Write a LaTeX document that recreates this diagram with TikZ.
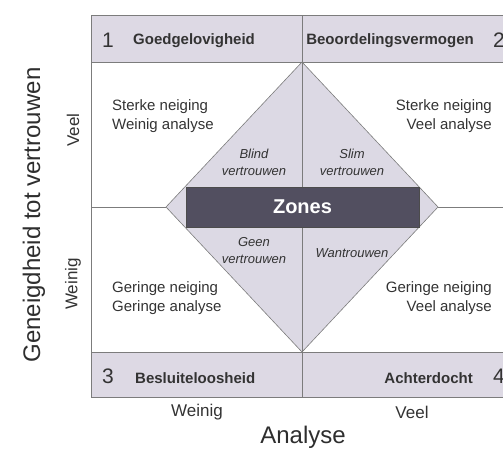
\documentclass[tikz,border=0pt]{standalone}
\usepackage{fontspec}
\setmainfont{Liberation Sans}
\definecolor{bandfill}{HTML}{DDD9E4}
\definecolor{diamfill}{HTML}{DCD9E4}
\definecolor{zonefill}{HTML}{524F60}
\definecolor{linegray}{HTML}{7C7C7C}
\definecolor{txt}{HTML}{333333}
\tikzset{
  gridline/.style={draw=linegray, line width=0.8pt},
  bandtitle/.style={font=\fontsize{15}{18}\selectfont\bfseries, text=txt, inner sep=0pt},
  bandnum/.style={font=\fontsize{21}{24}\selectfont, text=txt, inner sep=0pt},
  quadtext/.style={font=\fontsize{15}{19}\selectfont, text=txt, inner sep=0pt},
  zonetext/.style={font=\fontsize{13}{17}\selectfont\itshape, text=txt, inner sep=0pt, align=center},
  axistext/.style={font=\fontsize{17}{20}\selectfont, text=txt, inner sep=0pt},
  axistitle/.style={font=\fontsize{24}{28}\selectfont, text=txt!90!black, inner sep=0pt}
}
\begin{document}
\begin{tikzpicture}[x=1pt,y=-1pt]
\useasboundingbox (0,0) rectangle (503,450);
\clip (0,0) rectangle (503,450);
% bands
\fill[bandfill] (91,15) rectangle (513,62);
\fill[bandfill] (91,352) rectangle (513,397);
% diamond
\coordinate (dt) at (302,62);
\coordinate (dr) at (438,207);
\coordinate (db) at (302,352);
\coordinate (dl) at (166,207);
\filldraw[fill=diamfill, draw=linegray, line width=0.6pt] (dt) -- (dr) -- (db) -- (dl) -- cycle;
% grid lines
\draw[gridline] (91,15) rectangle (513,397);
\draw[gridline] (91,62) -- (513,62);
\draw[gridline] (91,352) -- (513,352);
\draw[gridline] (302,15) -- (302,397);
\draw[gridline] (91,207) -- (dl);
\draw[gridline] (dr) -- (513,207);
% zones bar
\fill[zonefill, draw=black!70, line width=0.6pt] (186,187) rectangle (419,227);
\node[font=\fontsize{20}{24}\selectfont\bfseries, text=white, inner sep=0pt] (zones) at (302.5,207) {Zones};
% band titles
\node[bandnum, anchor=west] (n1) at (102,40) {1};
\node[bandtitle, anchor=west] (t1) at (133,41) {Goedgelovigheid};
\node[bandtitle, anchor=east] (t2) at (474,41) {Beoordelingsvermogen};
\node[bandnum, anchor=west] (n2) at (493,40) {2};
\node[bandnum, anchor=west] (n3) at (102,376) {3};
\node[bandtitle, anchor=west] (t3) at (135,378) {Besluiteloosheid};
\node[bandtitle, anchor=east] (t4) at (473,378) {Achterdocht};
\node[bandnum, anchor=west] (n4) at (493,376) {4};
% quadrant texts
\node[quadtext, anchor=west, align=left] (q1) at (112,116) {Sterke neiging\\Weinig analyse};
\node[quadtext, anchor=east, align=right] (q2) at (492,116) {Sterke neiging\\Veel analyse};
\node[quadtext, anchor=west, align=left] (q3) at (112,298) {Geringe neiging\\Geringe analyse};
\node[quadtext, anchor=east, align=right] (q4) at (492,298) {Geringe neiging\\Veel analyse};
% zone texts
\node[zonetext] (z1) at (254,162) {Blind\\vertrouwen};
\node[zonetext] (z2) at (352,162) {Slim\\vertrouwen};
\node[zonetext] (z3) at (254,251) {Geen\\vertrouwen};
\node[zonetext] (z4) at (352,253) {Wantrouwen};
% axes
\node[axistext] (xw) at (197,412) {Weinig};
\node[axistext] (xv) at (412,412) {Veel};
\node[axistitle] (xt) at (303,437) {Analyse};
\node[axistext, rotate=90] (yv) at (73,130) {Veel};
\node[axistext, rotate=90] (yw) at (73,284) {Weinig};
\node[axistitle, rotate=90] (yt) at (34,215) {Geneigdheid tot vertrouwen};
\end{tikzpicture}
\end{document}
